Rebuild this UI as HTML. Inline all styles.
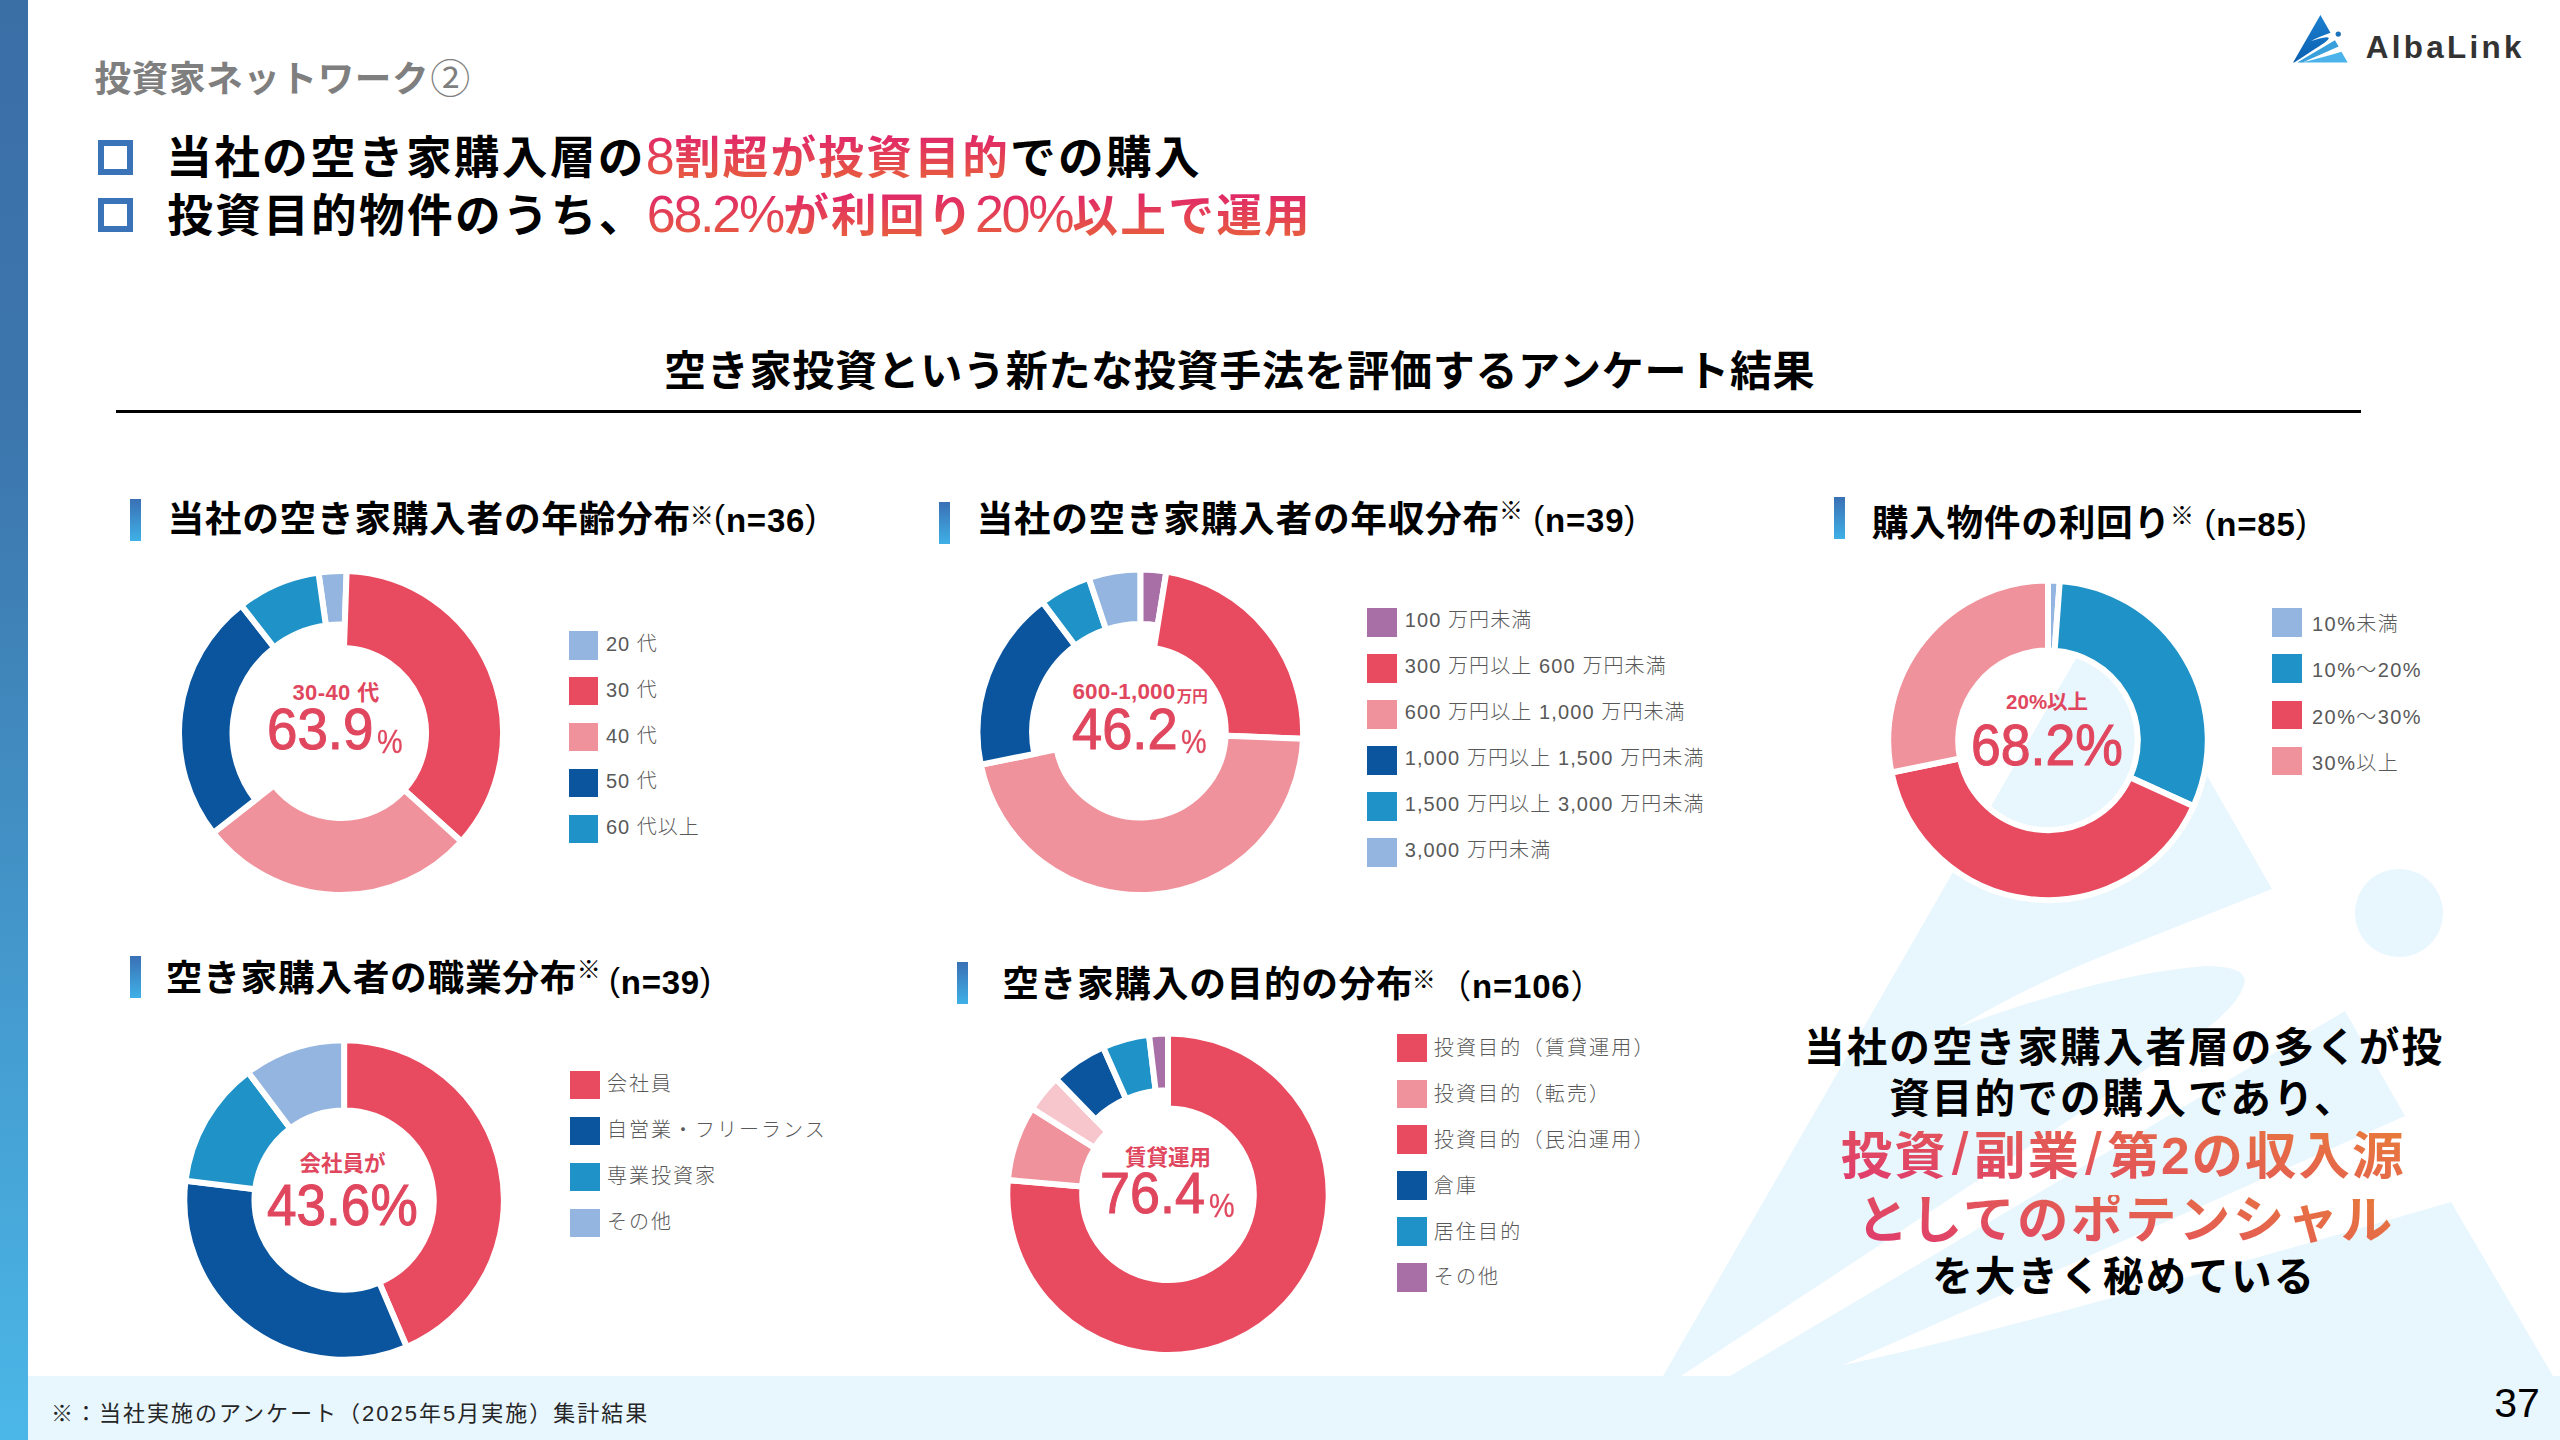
<!DOCTYPE html>
<html lang="ja"><head><meta charset="utf-8"><title>投資家ネットワーク②</title>
<style>
*{margin:0;padding:0;box-sizing:border-box}
html,body{width:2560px;height:1440px;overflow:hidden;background:#fff}
body{position:relative;font-family:"Liberation Sans", "Noto Sans CJK JP", sans-serif;color:#000}
div{position:absolute;white-space:nowrap;line-height:1}
#lbar{left:0;top:0;width:28px;height:1440px;background:linear-gradient(#3a6fa6 0%,#3c76ad 30%,#4bb7e8 100%)}
#band{left:28px;top:1376px;width:2532px;height:64px;background:#e8f6fe}
svg{position:absolute;left:0;top:0}
.hd{left:94.6px;top:62.2px;font-size:36.6px;font-weight:700;color:#7f7f7f;letter-spacing:0.6px}
.hd .c{font-weight:400;font-size:40px;position:relative;top:1px;left:1px;line-height:0}
.bx{left:98.4px;width:34.4px;height:34.4px;border:6.6px solid #3b73b9}
.bl{font-size:45.7px;font-weight:700;letter-spacing:2.25px}
.n{font-size:52px;font-weight:400;letter-spacing:-2.2px;line-height:0}
.gr{background:linear-gradient(#e0246c,#e8623a);-webkit-background-clip:text;background-clip:text;color:transparent}
.sec{left:664.1px;top:350.8px;font-size:42px;font-weight:700;letter-spacing:0.7px}
.rule{left:116.4px;top:410px;width:2244.8px;height:2.8px;background:#000}
.bar{width:11.2px;height:42px;background:linear-gradient(#3a70b5,#3fb0e6)}
.ct{font-size:36.7px;font-weight:700;letter-spacing:0.7px}
.kome{font-size:24px;font-weight:400}
.nn{font-size:33px;font-weight:700;letter-spacing:0.8px}
.nn .p{font-weight:400;position:relative;top:-3.5px}
.nn .fp{font-weight:400}
.lg{color:#595959;font-size:20px;font-weight:300}
.cs{color:#e0475e;font-weight:700}
.cb{color:#e0475e;font-weight:400;-webkit-text-stroke:1.1px #e0475e;font-size:58px;transform-origin:0 0}
.pc{color:#e0475e;font-size:33.5px;font-weight:400;-webkit-text-stroke:0.3px #e0475e;transform:scaleX(0.86);transform-origin:0 0}
.rt{font-weight:700}
.rt1{font-size:40.6px;letter-spacing:2.1px}
.rt2{font-size:51.5px;letter-spacing:2px}
.rt2 .s{font-size:64px;font-weight:400;line-height:0;margin:0 4.5px 0 4px;letter-spacing:0}
.g2{background:linear-gradient(15deg,#df3a6e 0%,#e2545a 40%,#e87b3a 100%);-webkit-background-clip:text;background-clip:text;color:transparent}
.pg{left:2494.2px;top:1382.8px;font-size:41px}
.fn{left:51px;top:1403px;font-size:22px;color:#262626;letter-spacing:2px}
.logo{left:2365.7px;top:31.5px;font-size:31.4px;color:#333;letter-spacing:3.3px;font-weight:700}
</style></head><body>
<div id="lbar"></div>
<svg width="2560" height="1440" viewBox="0 0 2560 1440"><path fill="#e8f6fe" d="M2108 603 L2272 889 L2100 957 Q2020 990 1959 1027 Q2100 975 2205 966 Q2250 966 2244 985 Q2236 1010 2190 1040 Q2100 1100 1681 1376 L1663 1376 Z"/><path fill="#e8f6fe" d="M1730 1376 L2345 1011 L2405 1116 L1843 1365 L1843 1376 Z"/><path fill="#e8f6fe" d="M1843 1365 Q2000 1333 2451 1202 L2553 1376 L1843 1376 Z"/><circle cx="2399" cy="913" r="44" fill="#e8f6fe"/></svg>
<div id="band"></div>
<svg width="2560" height="1440" viewBox="0 0 2560 1440"><defs><linearGradient id="lg1" x1="0" y1="0" x2="0" y2="1"><stop offset="0" stop-color="#1b7fcf"/><stop offset="1" stop-color="#0b5fb0"/></linearGradient></defs>
<g transform="translate(2320.4 15.1) scale(0.06135) translate(-2108 -603)">
<path fill="url(#lg1)" d="M2108 603 L2272 889 L2100 957 Q2020 990 1959 1027 Q2100 975 2205 966 Q2250 966 2244 985 Q2236 1010 2190 1040 Q2100 1100 1681 1376 L1663 1376 Z"/><path fill="#3aa0dc" d="M1730 1376 L2345 1011 L2405 1116 L1843 1365 L1843 1376 Z"/><path fill="#4cb3ea" d="M1843 1365 Q2000 1333 2451 1202 L2553 1376 L1843 1376 Z"/><circle cx="2399" cy="913" r="44" fill="#1a72bd"/></g><g stroke="#fff" stroke-width="6.0"><path d="M318.45 572.58A162.0 162.0 0 0 1 346.65 571.10L344.79 624.57A108.5 108.5 0 0 0 325.90 625.56Z" fill="#93b5df"/><path d="M346.65 571.10A162.0 162.0 0 0 1 461.39 841.40L404.17 789.88A85.0 85.0 0 0 0 343.97 648.05Z" fill="#e84a5f"/><path d="M461.39 841.40A162.0 162.0 0 0 1 213.34 832.74L274.02 785.33A85.0 85.0 0 0 0 404.17 789.88Z" fill="#f0929c"/><path d="M213.34 832.74A162.0 162.0 0 0 1 241.26 605.34L274.20 647.50A108.5 108.5 0 0 0 255.50 799.80Z" fill="#0b559f"/><path d="M241.26 605.34A162.0 162.0 0 0 1 318.45 572.58L325.90 625.56A108.5 108.5 0 0 0 274.20 647.50Z" fill="#1f93c7"/></g><g stroke="#fff" stroke-width="6.0"><path d="M1140.30 569.40A162.8 162.8 0 0 1 1166.41 571.51L1157.66 625.40A108.2 108.2 0 0 0 1140.30 624.00Z" fill="#a86fa6"/><path d="M1166.41 571.51A162.8 162.8 0 0 1 1302.97 738.76L1225.63 735.64A85.4 85.4 0 0 0 1154.00 647.91Z" fill="#e84a5f"/><path d="M1302.97 738.76A162.8 162.8 0 0 1 980.79 764.76L1056.63 749.28A85.4 85.4 0 0 0 1225.63 735.64Z" fill="#f0929c"/><path d="M980.79 764.76A162.8 162.8 0 0 1 1042.50 602.05L1075.30 645.70A108.2 108.2 0 0 0 1034.29 753.84Z" fill="#0b559f"/><path d="M1042.50 602.05A162.8 162.8 0 0 1 1088.75 577.78L1106.04 629.57A108.2 108.2 0 0 0 1075.30 645.70Z" fill="#1f93c7"/><path d="M1088.75 577.78A162.8 162.8 0 0 1 1140.30 569.40L1140.30 624.00A108.2 108.2 0 0 0 1106.04 629.57Z" fill="#93b5df"/></g><g stroke="#fff" stroke-width="6.0"><path d="M2048.00 580.50A159.8 159.8 0 0 1 2059.80 580.94L2054.63 650.75A89.8 89.8 0 0 0 2048.00 650.50Z" fill="#93b5df"/><path d="M2059.80 580.94A159.8 159.8 0 0 1 2193.58 806.19L2129.81 777.33A89.8 89.8 0 0 0 2054.63 650.75Z" fill="#1f93c7"/><path d="M2193.58 806.19A159.8 159.8 0 0 1 1891.49 772.56L1960.05 758.43A89.8 89.8 0 0 0 2129.81 777.33Z" fill="#e84a5f"/><path d="M1891.49 772.56A159.8 159.8 0 0 1 2048.00 580.50L2048.00 650.50A89.8 89.8 0 0 0 1960.05 758.43Z" fill="#f0929c"/></g><g stroke="#fff" stroke-width="6.0"><path d="M344.10 1040.20A159.8 159.8 0 0 1 406.74 1347.01L379.22 1282.43A89.6 89.6 0 0 0 344.10 1110.40Z" fill="#e84a5f"/><path d="M406.74 1347.01A159.8 159.8 0 0 1 185.47 1180.74L255.15 1189.20A89.6 89.6 0 0 0 379.22 1282.43Z" fill="#0b559f"/><path d="M185.47 1180.74A159.8 159.8 0 0 1 248.10 1072.25L290.27 1128.37A89.6 89.6 0 0 0 255.15 1189.20Z" fill="#1f93c7"/><path d="M248.10 1072.25A159.8 159.8 0 0 1 344.10 1040.20L344.10 1110.40A89.6 89.6 0 0 0 290.27 1128.37Z" fill="#93b5df"/></g><g stroke="#fff" stroke-width="6.0"><path d="M1168.00 1033.55A160.7 160.7 0 1 1 1007.93 1179.98L1082.54 1186.63A85.8 85.8 0 1 0 1168.00 1108.45Z" fill="#e84a5f"/><path d="M1007.93 1179.98A160.7 160.7 0 0 1 1032.11 1108.46L1094.86 1148.07A86.5 86.5 0 0 0 1081.84 1186.57Z" fill="#f0929c"/><path d="M1032.11 1108.46A160.7 160.7 0 0 1 1056.06 1078.95L1107.40 1131.83A87.0 87.0 0 0 0 1094.43 1147.81Z" fill="#f7c6cd"/><path d="M1056.06 1078.95A160.7 160.7 0 0 1 1103.22 1047.19L1126.08 1099.07A104.0 104.0 0 0 0 1095.56 1119.63Z" fill="#0b559f"/><path d="M1103.22 1047.19A160.7 160.7 0 0 1 1148.99 1034.68L1155.70 1090.98A104.0 104.0 0 0 0 1126.08 1099.07Z" fill="#1f93c7"/><path d="M1148.99 1034.68A160.7 160.7 0 0 1 1168.00 1033.55L1168.00 1090.25A104.0 104.0 0 0 0 1155.70 1090.98Z" fill="#a86fa6"/></g></svg>
<div class="hd">投資家ネットワーク<span class="c">②</span></div>
<div class="bx" style="top:140.3px"></div>
<div class="bx" style="top:198.1px"></div>
<div class="bl" style="left:166.25px;top:136px">当社の空き家購入層の<span class="gr"><span class="n" style="letter-spacing:0">8</span>割超が投資目的</span>での購入</div>
<div class="bl" style="left:167.3px;top:193.5px">投資目的物件のうち、<span class="gr"><span class="n">68.2%</span>が利回り<span class="n">20%</span>以上で運用</span></div>
<div class="sec">空き家投資という新たな投資手法を評価するアンケート結果</div>
<div class="rule"></div>
<div class="bar" style="left:129.6px;top:499px"></div><div class="ct" style="left:167.4px;top:501.9px">当社の空き家購入者の年齢分布</div><div class="kome" style="left:689.7px;top:503.8px">※</div><div class="nn" style="left:714.1px;top:503.7px"><span class="p">(</span>n=36<span class="p">)</span></div><div class="bar" style="left:939px;top:501.7px"></div><div class="ct" style="left:976.4px;top:502.3px">当社の空き家購入者の年収分布</div><div class="kome" style="left:1498.9px;top:499.1px">※</div><div class="nn" style="left:1533.2px;top:504.2px"><span class="p">(</span>n=39<span class="p">)</span></div><div class="bar" style="left:1833.75px;top:496.6px"></div><div class="ct" style="left:1871.7px;top:505.5px">購入物件の利回り</div><div class="kome" style="left:2169.9px;top:504px">※</div><div class="nn" style="left:2204.5px;top:508.4px"><span class="p">(</span>n=85<span class="p">)</span></div><div class="bar" style="left:130px;top:956.2px"></div><div class="ct" style="left:165.8px;top:960.8px">空き家購入者の職業分布</div><div class="kome" style="left:576.7px;top:958.3px">※</div><div class="nn" style="left:608.9px;top:966px"><span class="p">(</span>n=39<span class="p">)</span></div><div class="bar" style="left:957.1px;top:961.9px"></div><div class="ct" style="left:1002.2px;top:967px">空き家購入の目的の分布</div><div class="kome" style="left:1411.8px;top:968.3px">※</div><div class="nn" style="left:1438.2px;top:969.5px"><span class="fp">（</span>n=106<span class="fp">）</span></div>
<div class="sq" style="left:569.1px;top:631.00px;width:29.3px;height:28.5px;background:#93b5df"></div><div class="lg" style="left:605.9px;top:633.75px;letter-spacing:1px">20 代</div><div class="sq" style="left:569.1px;top:676.90px;width:29.3px;height:28.5px;background:#e84a5f"></div><div class="lg" style="left:605.9px;top:679.65px;letter-spacing:1px">30 代</div><div class="sq" style="left:569.1px;top:722.80px;width:29.3px;height:28.5px;background:#f0929c"></div><div class="lg" style="left:605.9px;top:725.55px;letter-spacing:1px">40 代</div><div class="sq" style="left:569.1px;top:768.70px;width:29.3px;height:28.5px;background:#0b559f"></div><div class="lg" style="left:605.9px;top:771.45px;letter-spacing:1px">50 代</div><div class="sq" style="left:569.1px;top:814.60px;width:29.3px;height:28.5px;background:#1f93c7"></div><div class="lg" style="left:605.9px;top:817.35px;letter-spacing:1px">60 代以上</div><div class="sq" style="left:1367px;top:608.10px;width:29.6px;height:28.5px;background:#a86fa6"></div><div class="lg" style="left:1404.7px;top:609.80px;letter-spacing:1.1px">100 万円未満</div><div class="sq" style="left:1367px;top:654.16px;width:29.6px;height:28.5px;background:#e84a5f"></div><div class="lg" style="left:1404.7px;top:655.86px;letter-spacing:1.1px">300 万円以上 600 万円未満</div><div class="sq" style="left:1367px;top:700.22px;width:29.6px;height:28.5px;background:#f0929c"></div><div class="lg" style="left:1404.7px;top:701.92px;letter-spacing:1.1px">600 万円以上 1,000 万円未満</div><div class="sq" style="left:1367px;top:746.28px;width:29.6px;height:28.5px;background:#0b559f"></div><div class="lg" style="left:1404.7px;top:747.98px;letter-spacing:1.1px">1,000 万円以上 1,500 万円未満</div><div class="sq" style="left:1367px;top:792.34px;width:29.6px;height:28.5px;background:#1f93c7"></div><div class="lg" style="left:1404.7px;top:794.04px;letter-spacing:1.1px">1,500 万円以上 3,000 万円未満</div><div class="sq" style="left:1367px;top:838.40px;width:29.6px;height:28.5px;background:#93b5df"></div><div class="lg" style="left:1404.7px;top:840.10px;letter-spacing:1.1px">3,000 万円未満</div><div class="sq" style="left:2272.2px;top:608.10px;width:29.55px;height:28.5px;background:#93b5df"></div><div class="lg" style="left:2312.1px;top:614.10px;letter-spacing:1.4px">10%未満</div><div class="sq" style="left:2272.2px;top:654.30px;width:29.55px;height:28.5px;background:#1f93c7"></div><div class="lg" style="left:2312.1px;top:660.30px;letter-spacing:1.4px">10%～20%</div><div class="sq" style="left:2272.2px;top:700.50px;width:29.55px;height:28.5px;background:#e84a5f"></div><div class="lg" style="left:2312.1px;top:706.50px;letter-spacing:1.4px">20%～30%</div><div class="sq" style="left:2272.2px;top:746.70px;width:29.55px;height:28.5px;background:#f0929c"></div><div class="lg" style="left:2312.1px;top:752.70px;letter-spacing:1.4px">30%以上</div><div class="sq" style="left:570.3px;top:1070.90px;width:29.6px;height:28.5px;background:#e84a5f"></div><div class="lg" style="left:607.1px;top:1073.80px;letter-spacing:2px">会社員</div><div class="sq" style="left:570.3px;top:1116.85px;width:29.6px;height:28.5px;background:#0b559f"></div><div class="lg" style="left:607.1px;top:1119.75px;letter-spacing:2px">自営業・フリーランス</div><div class="sq" style="left:570.3px;top:1162.80px;width:29.6px;height:28.5px;background:#1f93c7"></div><div class="lg" style="left:607.1px;top:1165.70px;letter-spacing:2px">専業投資家</div><div class="sq" style="left:570.3px;top:1208.75px;width:29.6px;height:28.5px;background:#93b5df"></div><div class="lg" style="left:607.1px;top:1211.65px;letter-spacing:2px">その他</div><div class="sq" style="left:1397.1px;top:1033.60px;width:29.65px;height:28.5px;background:#e84a5f"></div><div class="lg" style="left:1433.7px;top:1037.90px;letter-spacing:2.2px">投資目的（賃貸運用）</div><div class="sq" style="left:1397.1px;top:1079.50px;width:29.65px;height:28.5px;background:#f0929c"></div><div class="lg" style="left:1433.7px;top:1083.80px;letter-spacing:2.2px">投資目的（転売）</div><div class="sq" style="left:1397.1px;top:1125.40px;width:29.65px;height:28.5px;background:#e84a5f"></div><div class="lg" style="left:1433.7px;top:1129.70px;letter-spacing:2.2px">投資目的（民泊運用）</div><div class="sq" style="left:1397.1px;top:1171.30px;width:29.65px;height:28.5px;background:#0b559f"></div><div class="lg" style="left:1433.7px;top:1175.60px;letter-spacing:2.2px">倉庫</div><div class="sq" style="left:1397.1px;top:1217.20px;width:29.65px;height:28.5px;background:#1f93c7"></div><div class="lg" style="left:1433.7px;top:1221.50px;letter-spacing:2.2px">居住目的</div><div class="sq" style="left:1397.1px;top:1263.10px;width:29.65px;height:28.5px;background:#a86fa6"></div><div class="lg" style="left:1433.7px;top:1267.40px;letter-spacing:2.2px">その他</div>
<div class="cs" style="left:292.4px;top:681.5px;font-size:22px;letter-spacing:0.4px">30-40 代</div><div class="cb" style="left:266.6px;top:699.8px;transform:scaleX(0.943)">63.9</div><div class="pc" style="left:376.5px;top:724.8px;">%</div><div class="cs" style="left:1072.4px;top:681.2px;font-size:22.5px;letter-spacing:0.2px">600-1,000</div><div class="cs" style="left:1176.8px;top:689px;font-size:15.5px">万円</div><div class="cb" style="left:1072.2px;top:700.1px;transform:scaleX(0.935)">46.2</div><div class="pc" style="left:1180.9px;top:724.8px;">%</div><div class="cs" style="left:2006.1px;top:691.8px;font-size:20.5px">20%以上</div><div class="cb" style="left:1970.6px;top:716px;transform:scaleX(0.9225)">68.2%</div><div class="cs" style="left:299.4px;top:1153.6px;font-size:21.5px">会社員が</div><div class="cb" style="left:267.2px;top:1175.6px;transform:scaleX(0.916)">43.6%</div><div class="cs" style="left:1125.1px;top:1147.9px;font-size:21.5px">賃貸運用</div><div class="cb" style="left:1100px;top:1163.9px;transform:scaleX(0.929)">76.4</div><div class="pc" style="left:1208.7px;top:1188.5px;">%</div>
<div class="rt rt1" style="left:1804px;top:1028px">当社の空き家購入者層の多くが投</div>
<div class="rt rt1" style="left:1889.2px;top:1079px">資目的での購入であり、</div>
<div class="rt rt2 g2" style="left:1840.8px;top:1131.4px">投資<span class="s">/</span>副業<span class="s">/</span>第2の収入源</div>
<div class="rt rt2 g2" style="left:1856.7px;top:1194.7px;letter-spacing:2.45px">としてのポテンシャル</div>
<div class="rt rt1" style="left:1932.2px;top:1257.3px">を大きく秘めている</div>
<div class="fn">※：当社実施のアンケート（2025年5月実施）集計結果</div>
<div class="pg">37</div>
<div class="logo">AlbaLink</div>
</body></html>
